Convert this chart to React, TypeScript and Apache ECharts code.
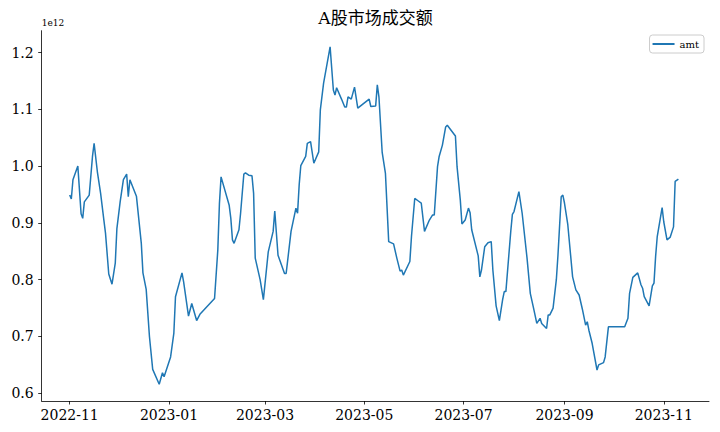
import React, { useEffect, useRef } from "react";
import * as echarts from "echarts";

// ---- data (values in units of 1e12) ----
const dates: string[] = [
  "2022-11-01", "2022-11-02", "2022-11-03", "2022-11-06", "2022-11-08", "2022-11-09", "2022-11-10",
  "2022-11-13", "2022-11-15", "2022-11-16", "2022-11-18", "2022-11-20", "2022-11-22", "2022-11-23",
  "2022-11-25", "2022-11-27", "2022-11-29", "2022-11-30", "2022-12-02", "2022-12-04", "2022-12-06",
  "2022-12-07", "2022-12-08", "2022-12-12", "2022-12-15", "2022-12-16", "2022-12-18", "2022-12-20",
  "2022-12-22", "2022-12-26", "2022-12-28", "2022-12-29", "2023-01-02", "2023-01-04", "2023-01-05",
  "2023-01-09", "2023-01-10", "2023-01-13", "2023-01-15", "2023-01-18", "2023-01-20", "2023-01-29",
  "2023-01-31", "2023-02-01", "2023-02-02", "2023-02-07", "2023-02-08", "2023-02-09", "2023-02-10",
  "2023-02-13", "2023-02-14", "2023-02-16", "2023-02-17", "2023-02-19", "2023-02-21", "2023-02-22",
  "2023-02-23", "2023-02-26", "2023-02-28", "2023-03-03", "2023-03-06", "2023-03-07", "2023-03-09",
  "2023-03-13", "2023-03-14", "2023-03-17", "2023-03-20", "2023-03-21", "2023-03-22", "2023-03-23",
  "2023-03-26", "2023-03-27", "2023-03-29", "2023-03-31", "2023-04-03", "2023-04-04", "2023-04-06",
  "2023-04-10", "2023-04-12", "2023-04-13", "2023-04-14", "2023-04-17", "2023-04-19", "2023-04-20",
  "2023-04-21", "2023-04-23", "2023-04-25", "2023-04-27", "2023-05-04", "2023-05-05", "2023-05-08",
  "2023-05-09", "2023-05-10", "2023-05-12", "2023-05-14", "2023-05-16", "2023-05-19", "2023-05-21",
  "2023-05-23", "2023-05-24", "2023-05-25", "2023-05-29", "2023-05-30", "2023-06-01", "2023-06-03",
  "2023-06-05", "2023-06-07", "2023-06-10", "2023-06-12", "2023-06-13", "2023-06-15", "2023-06-16",
  "2023-06-18", "2023-06-20", "2023-06-21", "2023-06-26", "2023-06-27", "2023-06-29", "2023-06-30",
  "2023-07-02", "2023-07-04", "2023-07-05", "2023-07-06", "2023-07-10", "2023-07-11", "2023-07-12",
  "2023-07-14", "2023-07-16", "2023-07-18", "2023-07-19", "2023-07-21", "2023-07-23", "2023-07-25",
  "2023-07-26", "2023-07-27", "2023-07-30", "2023-07-31", "2023-08-01", "2023-08-04", "2023-08-06",
  "2023-08-09", "2023-08-11", "2023-08-13", "2023-08-15", "2023-08-17", "2023-08-18", "2023-08-21",
  "2023-08-22", "2023-08-23", "2023-08-25", "2023-08-27", "2023-08-28", "2023-08-30", "2023-08-31",
  "2023-09-01", "2023-09-03", "2023-09-06", "2023-09-08", "2023-09-10", "2023-09-12", "2023-09-14",
  "2023-09-15", "2023-09-16", "2023-09-18", "2023-09-21", "2023-09-22", "2023-09-25", "2023-09-26",
  "2023-09-28", "2023-10-08", "2023-10-10", "2023-10-11", "2023-10-13", "2023-10-16", "2023-10-18",
  "2023-10-19", "2023-10-20", "2023-10-23", "2023-10-25", "2023-10-26", "2023-10-27", "2023-10-28",
  "2023-10-31", "2023-11-01", "2023-11-03", "2023-11-05", "2023-11-07", "2023-11-08", "2023-11-10",
];

const amtE12: number[] = [
  0.949, 0.942, 0.976, 1.0, 0.916, 0.908, 0.937,
  0.949, 1.017, 1.04, 0.99, 0.952, 0.905, 0.882,
  0.81, 0.792, 0.829, 0.89, 0.937, 0.976, 0.986,
  0.946, 0.976, 0.947, 0.864, 0.812, 0.783, 0.7,
  0.642, 0.616, 0.636, 0.629, 0.664, 0.706, 0.77,
  0.812, 0.796, 0.736, 0.758, 0.728, 0.739, 0.767,
  0.852, 0.934, 0.981, 0.931, 0.908, 0.87, 0.864,
  0.888, 0.917, 0.986, 0.988, 0.984, 0.983, 0.952,
  0.838, 0.8, 0.765, 0.849, 0.885, 0.921, 0.843,
  0.811, 0.811, 0.885, 0.926, 0.917, 0.967, 1.001,
  1.017, 1.04, 1.043, 1.005, 1.025, 1.099, 1.146,
  1.21, 1.134, 1.125, 1.138, 1.118, 1.104, 1.104,
  1.122, 1.118, 1.139, 1.102, 1.118, 1.105, 1.106,
  1.143, 1.122, 1.024, 0.987, 0.867, 0.863, 0.838,
  0.815, 0.817, 0.808, 0.832, 0.876, 0.943, 0.939,
  0.935, 0.885, 0.905, 0.914, 0.914, 0.999, 1.017,
  1.037, 1.069, 1.072, 1.053, 0.999, 0.94, 0.898,
  0.905, 0.926, 0.918, 0.888, 0.842, 0.805, 0.817,
  0.858, 0.865, 0.867, 0.817, 0.754, 0.728, 0.765,
  0.779, 0.779, 0.885, 0.915, 0.92, 0.955, 0.917,
  0.838, 0.776, 0.75, 0.723, 0.732, 0.723, 0.714,
  0.738, 0.738, 0.75, 0.8, 0.843, 0.946, 0.949,
  0.935, 0.898, 0.805, 0.782, 0.773, 0.748, 0.72,
  0.726, 0.711, 0.688, 0.641, 0.65, 0.654, 0.664,
  0.717, 0.717, 0.732, 0.776, 0.804, 0.812, 0.791,
  0.785, 0.77, 0.754, 0.789, 0.794, 0.841, 0.876,
  0.927, 0.902, 0.87, 0.875, 0.893, 0.973, 0.977,
];

const xTickLabels: string[] = ["2022-11", "2023-01", "2023-03", "2023-05", "2023-07", "2023-09", "2023-11"];
const yTicks: number[] = [0.6, 0.7, 0.8, 0.9, 1.0, 1.1, 1.2];

const seriesName = "amt";
const titleText = "A股市场成交额";

const DAY = 86400000;
function parseDate(s: string): number {
  const [y, m, d] = s.split("-").map(Number);
  return new Date(y, (m || 1) - 1, d || 1).getTime();
}

export default function App() {
  const ref = useRef<HTMLDivElement>(null);

  useEffect(() => {
    if (!ref.current) return;
    const chart = echarts.init(ref.current, null, { renderer: "svg" });
    const font = '"DejaVu Serif", "Noto Sans CJK SC", serif';
    const xTickValues = xTickLabels.map(parseDate);
    const xMin = parseDate("2022-11-01") - 17.2 * DAY;
    const xMax = parseDate("2023-11-01") + 27.8 * DAY;
    const pad2 = (n: number) => (n < 10 ? "0" + n : "" + n);

    chart.setOption({
      animation: false,
      backgroundColor: "#ffffff",
      textStyle: { fontFamily: font },
      title: {
        text: titleText,
        left: 375.5,
        textAlign: "center",
        top: 9,
        padding: 0,
        textStyle: { fontFamily: font, fontSize: 17, fontWeight: "normal", color: "#000" },
      },
      legend: {
        data: [seriesName],
        right: 16,
        top: 35,
        icon: "rect",
        itemWidth: 22,
        itemHeight: 2,
        padding: [4, 5, 4, 3],
        borderColor: "#cccccc",
        borderWidth: 1,
        borderRadius: 3,
        backgroundColor: "rgba(255,255,255,0.8)",
        textStyle: { fontFamily: font, fontSize: 10, color: "#000" },
      },
      grid: { left: 41.7, right: 11, top: 30.7, bottom: 31, containLabel: false },
      xAxis: {
        type: "value",
        min: xMin,
        max: xMax,
        splitLine: { show: false },
        axisLine: { lineStyle: { color: "#000", width: 0.8 } },
        axisTick: { show: true, length: 3.5, lineStyle: { color: "#000", width: 0.8 }, customValues: xTickValues },
        axisLabel: {
          customValues: xTickValues,
          margin: 7,
          fontFamily: font,
          fontSize: 14,
          color: "#000",
          formatter: (v: number) => {
            const d = new Date(v);
            return d.getFullYear() + "-" + pad2(d.getMonth() + 1);
          },
        },
      },
      yAxis: {
        type: "value",
        min: 0.5864,
        max: 1.2384,
        name: "1e12",
        nameLocation: "end",
        nameGap: 3,
        nameTextStyle: { fontFamily: font, fontSize: 9, color: "#000", align: "left", verticalAlign: "bottom", padding: [0, 0, 0, 0] },
        splitLine: { show: false },
        axisLine: { show: true, lineStyle: { color: "#000", width: 0.8 } },
        axisTick: { show: true, length: 3.5, lineStyle: { color: "#000", width: 0.8 }, customValues: yTicks },
        axisLabel: {
          customValues: yTicks,
          margin: 8,
          fontFamily: font,
          fontSize: 14,
          color: "#000",
          formatter: (v: number) => v.toFixed(1),
        },
      },
      series: [
        {
          name: seriesName,
          type: "line",
          data: dates.map((d, i) => [parseDate(d), amtE12[i]]),
          showSymbol: false,
          symbol: "none",
          lineStyle: { color: "#1f77b4", width: 1.5 },
          itemStyle: { color: "#1f77b4" },
        },
      ],
    });
    return () => chart.dispose();
  }, []);

  return (
    <div
      ref={ref}
      style={{ position: "fixed", left: 0, top: 0, width: 720, height: 432, background: "#fff" }}
    />
  );
}
